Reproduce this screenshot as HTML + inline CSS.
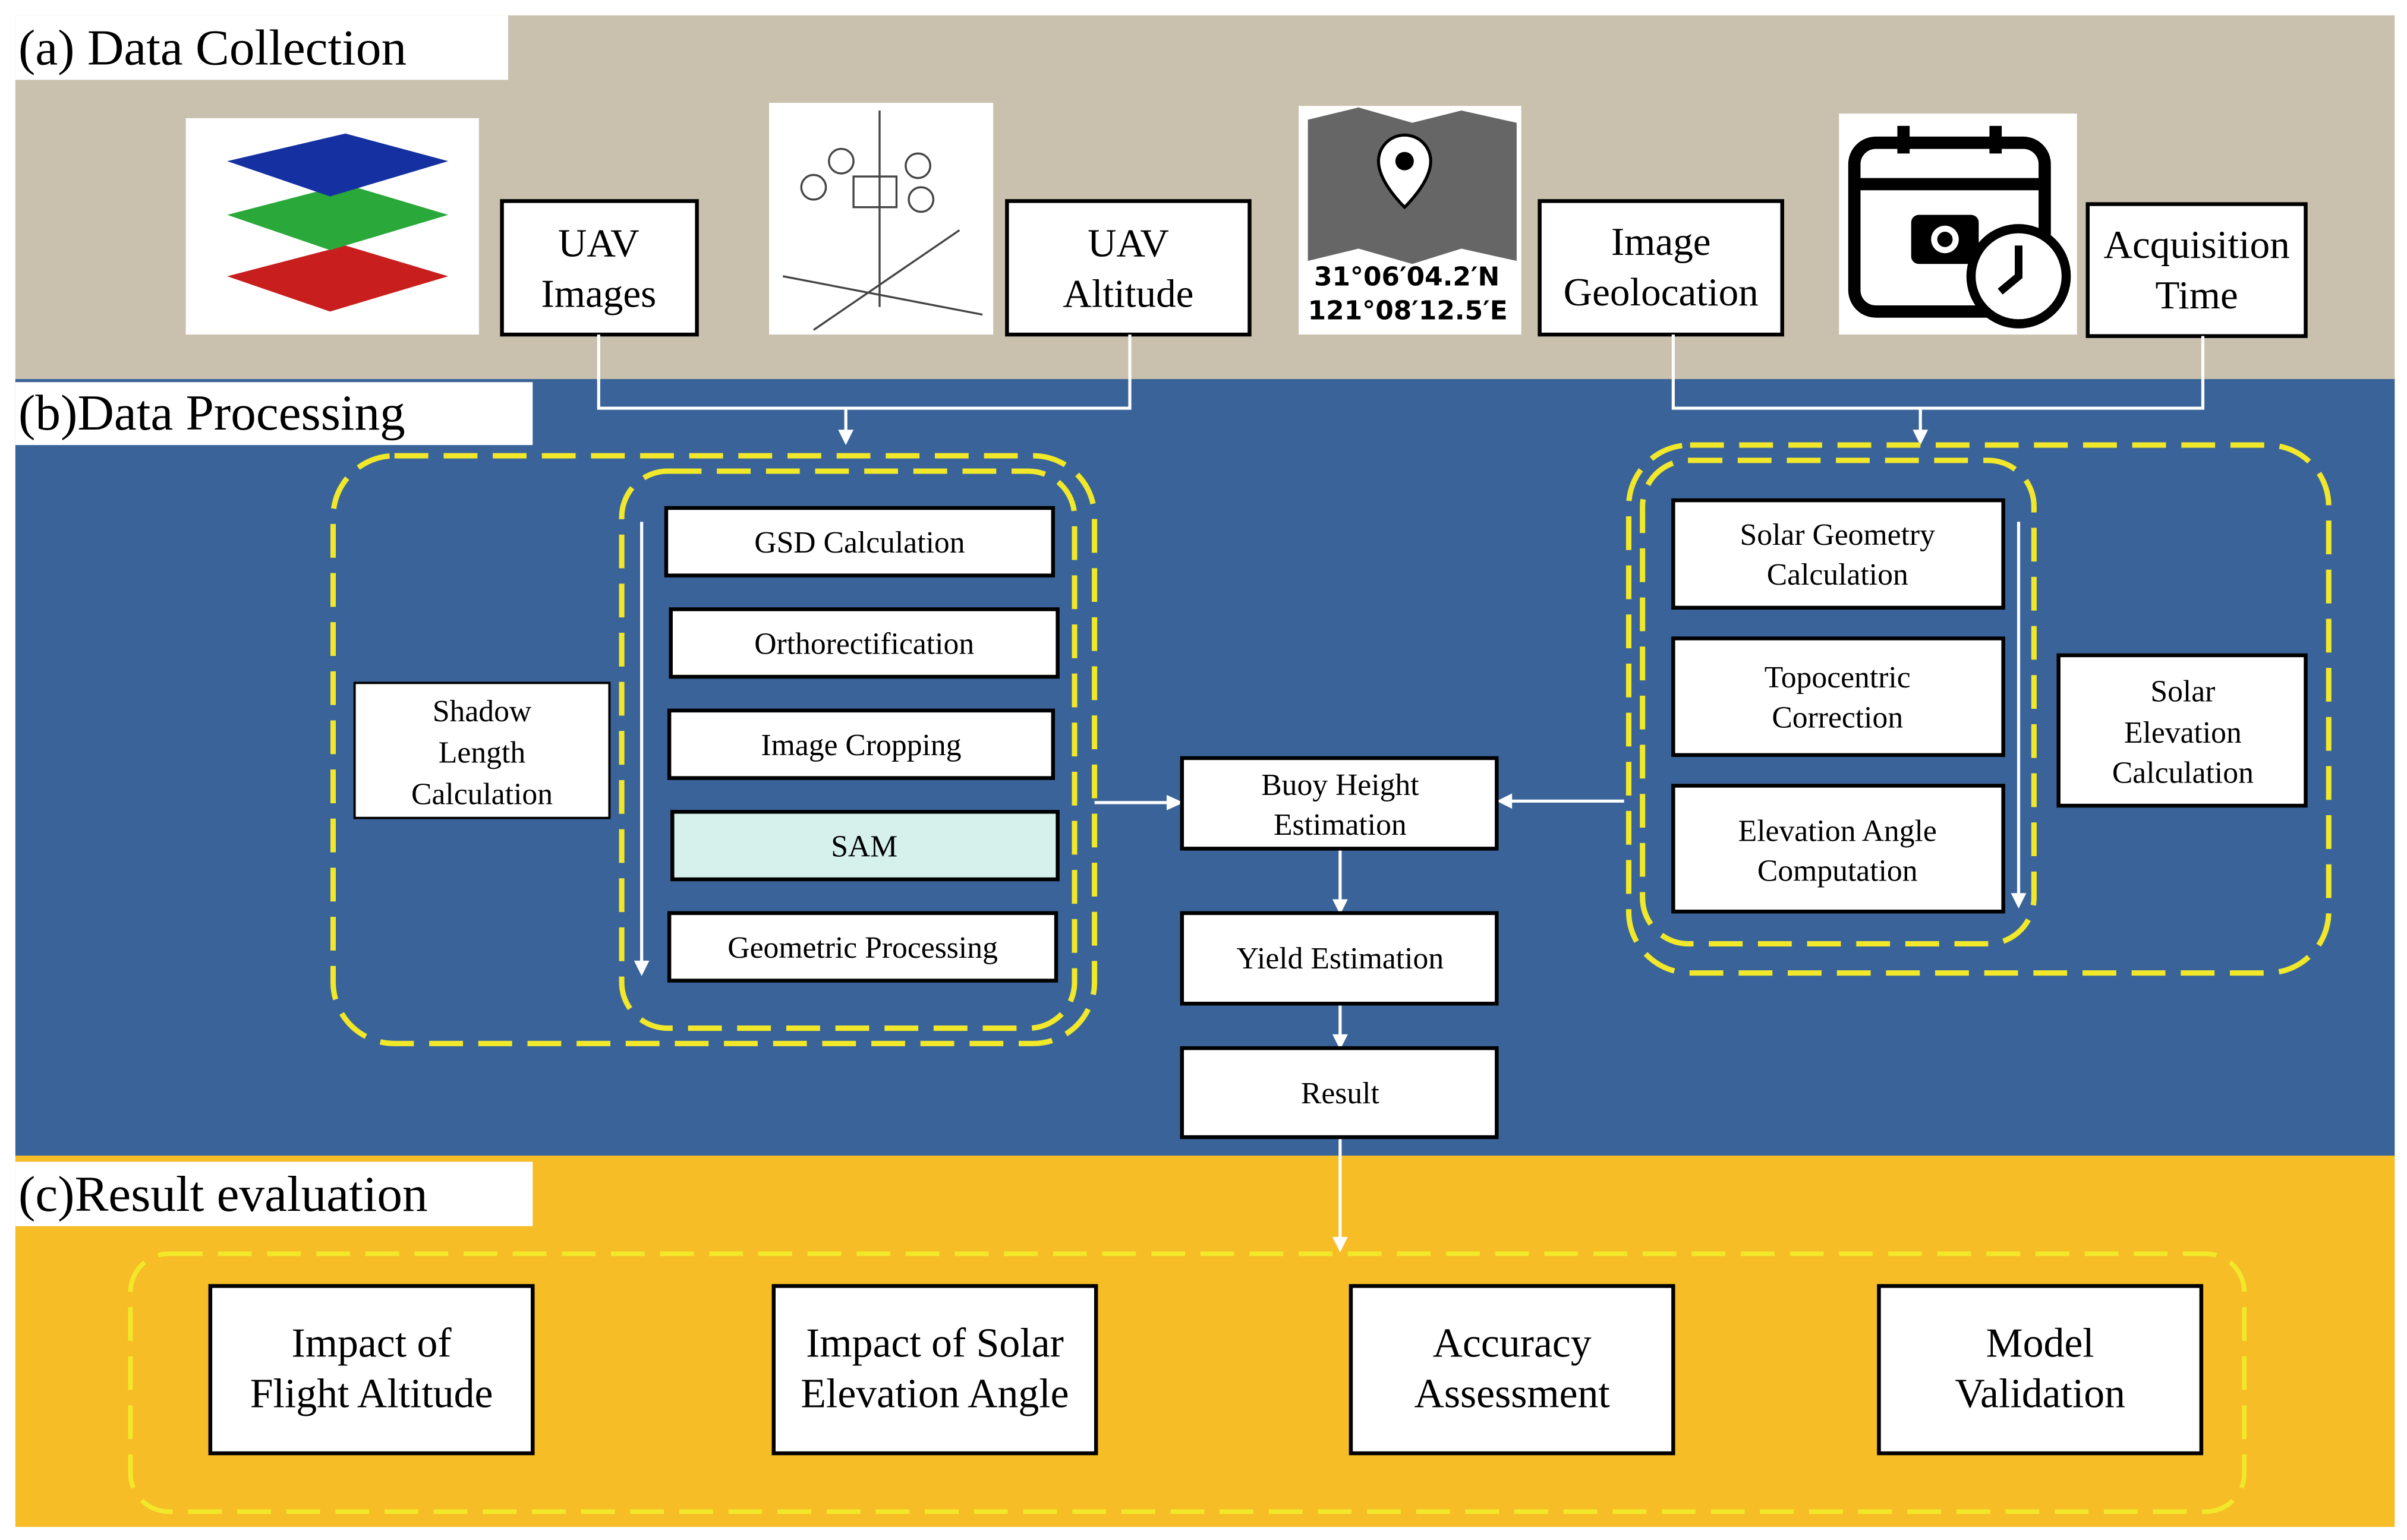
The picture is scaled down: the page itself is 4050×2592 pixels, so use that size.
<!DOCTYPE html>
<html><head><meta charset="utf-8"><style>html,body{margin:0;padding:0;background:#fff}svg{display:block}</style></head>
<body>
<svg width="4050" height="2592" viewBox="0 0 1568 1003.5" xmlns="http://www.w3.org/2000/svg" font-family="Liberation Serif, serif">
<rect width="1568" height="1003.5" fill="#fff"/>
<rect x="10" y="10" width="1550" height="238" fill="#c9c0ae"/>
<rect x="10" y="247" width="1550" height="507" fill="#3a6499"/>
<rect x="10" y="753" width="1550" height="242" fill="#f6bd27"/>
<g fill="#fff">
<rect x="10" y="10" width="321" height="42"/>
<rect x="10" y="249" width="337" height="41"/>
<rect x="10" y="757" width="337" height="42"/>
</g>
<g font-size="33" fill="#000">
<text x="12" y="42">(a) Data Collection</text>
<text x="12" y="280">(b)Data  Processing</text>
<text x="12" y="789">(c)Result evaluation</text>
</g>
<rect x="121" y="77" width="191" height="141" fill="#fff"/>
<polygon points="148,180 225,160 292,180 215,203" fill="#c81e1e"/>
<polygon points="148,140 225,120 292,140 215,163" fill="#2aa83a"/>
<polygon points="148,105 225,87 292,105 215,128" fill="#1530a0"/>
<rect x="501" y="67" width="146" height="151" fill="#fff"/>
<g stroke="#444" stroke-width="1.3" fill="none">
<line x1="573" y1="72" x2="573" y2="200"/><line x1="530" y1="215" x2="625" y2="150"/><line x1="510" y1="180" x2="640" y2="205"/>
<rect x="556" y="115" width="28" height="20"/><circle cx="548" cy="105" r="8"/><circle cx="598" cy="108" r="8"/><circle cx="530" cy="122" r="8"/><circle cx="600" cy="130" r="8"/>
</g>
<rect x="846" y="69" width="145" height="149" fill="#fff"/>
<polygon points="852,78 885,70 920,80 952,72 988,80 988,170 952,162 920,172 885,162 852,170" fill="#666"/>
<path d="M915,88 a17,17 0 0 1 17,17 c0,14 -17,30 -17,30 c0,0 -17,-16 -17,-30 a17,17 0 0 1 17,-17z" fill="#fff" stroke="#000" stroke-width="2"/>
<circle cx="915" cy="105" r="6" fill="#000"/>
<g font-family="DejaVu Sans, sans-serif" font-size="17" font-weight="bold"><text x="856" y="186">31°06′04.2′N</text><text x="852" y="208">121°08′12.5′E</text></g>
<rect x="1198" y="74" width="155" height="144" fill="#fff"/>
<g stroke="#000" stroke-width="8" fill="none"><rect x="1208" y="93" width="124" height="110" rx="14"/><line x1="1208" y1="120" x2="1332" y2="120"/><line x1="1240" y1="82" x2="1240" y2="100"/><line x1="1300" y1="82" x2="1300" y2="100"/></g>
<rect x="1245" y="140" width="44" height="32" rx="5" fill="#000"/><circle cx="1267" cy="156" r="9" fill="#fff"/><circle cx="1267" cy="156" r="5" fill="#000"/>
<circle cx="1315" cy="180" r="31" fill="#fff" stroke="#000" stroke-width="6"/><path d="M1315,160 v20 l-12,10" stroke="#000" stroke-width="5" fill="none"/>
<g fill="#fff" stroke="#000" stroke-width="2.5">
<rect x="327" y="131" width="127" height="87"/><rect x="656" y="131" width="158" height="87"/>
<rect x="1003" y="131" width="158" height="87"/><rect x="1360" y="133" width="142" height="86"/>
</g>
<g font-size="26" text-anchor="middle">
<text x="390" y="167">UAV</text><text x="390" y="200">Images</text>
<text x="735" y="167">UAV</text><text x="735" y="200">Altitude</text>
<text x="1082" y="166">Image</text><text x="1082" y="199">Geolocation</text>
<text x="1431" y="168">Acquisition</text><text x="1431" y="201">Time</text>
</g>
<g stroke="#fff" stroke-width="2" fill="none">
<polyline points="390,218 390,266 736,266 736,218"/><line x1="551" y1="266" x2="551" y2="282"/>
<polyline points="1090,218 1090,266 1435,266 1435,219"/><line x1="1251" y1="266" x2="1251" y2="282"/>
<line x1="418" y1="340" x2="418" y2="628"/><line x1="1315" y1="340" x2="1315" y2="584"/>
<line x1="713" y1="523" x2="762" y2="523"/><line x1="1058" y1="522" x2="983" y2="522"/>
<line x1="873" y1="553" x2="873" y2="588"/><line x1="873" y1="654" x2="873" y2="676"/><line x1="873" y1="741" x2="873" y2="808"/>
</g>
<g fill="#fff">
<polygon points="546,280 556,280 551,290"/><polygon points="1246,280 1256,280 1251,290"/>
<polygon points="413,626 423,626 418,636"/><polygon points="1310,582 1320,582 1315,592"/>
<polygon points="760,518 760,528 771,523"/><polygon points="985,517 985,527 975,522"/>
<polygon points="868,586 878,586 873,596"/><polygon points="868,674 878,674 873,684"/><polygon points="868,806 878,806 873,816"/>
</g>
<g stroke="#f2e82a" stroke-width="3.5" fill="none" stroke-dasharray="22,10">
<rect x="217" y="297" width="496" height="383" rx="40"/><rect x="405" y="307" width="295" height="363" rx="30"/>
<rect x="1061" y="290" width="456" height="344" rx="40"/><rect x="1070" y="300" width="255" height="315" rx="30"/>
<rect x="85" y="817" width="1377" height="168" rx="25" stroke-width="3"/>
</g>
<g fill="#fff" stroke="#000" stroke-width="2.5">
<rect x="434" y="331" width="252" height="44"/><rect x="437" y="397" width="252" height="44"/>
<rect x="436" y="463" width="250" height="44"/><rect x="438" y="529" width="251" height="44" fill="#d6f1ec"/>
<rect x="436" y="595" width="252" height="44"/>
<rect x="231" y="445" width="166" height="88" stroke-width="1.5"/>
<rect x="770" y="494" width="205" height="59"/><rect x="770" y="595" width="205" height="59"/><rect x="770" y="683" width="205" height="58"/>
<rect x="1090" y="326" width="215" height="70"/><rect x="1090" y="416" width="215" height="76"/><rect x="1090" y="512" width="215" height="82"/>
<rect x="1341" y="427" width="161" height="98"/>
<rect x="137" y="838" width="210" height="109"/><rect x="504" y="838" width="210" height="109"/>
<rect x="880" y="838" width="210" height="109"/><rect x="1224" y="838" width="210" height="109"/>
</g>
<g font-size="20" text-anchor="middle">
<text x="560" y="360">GSD Calculation</text><text x="563" y="426">Orthorectification</text>
<text x="561" y="492">Image Cropping</text><text x="563" y="558">SAM</text><text x="562" y="624">Geometric Processing</text>
<text x="314" y="470">Shadow</text><text x="314" y="497">Length</text><text x="314" y="524">Calculation</text>
<text x="873" y="518">Buoy Height</text><text x="873" y="544">Estimation</text>
<text x="873" y="631">Yield Estimation</text><text x="873" y="719">Result</text>
<text x="1197" y="355">Solar Geometry</text><text x="1197" y="381">Calculation</text>
<text x="1197" y="448">Topocentric</text><text x="1197" y="474">Correction</text>
<text x="1197" y="548">Elevation Angle</text><text x="1197" y="574">Computation</text>
<text x="1422" y="457">Solar</text><text x="1422" y="484">Elevation</text><text x="1422" y="510">Calculation</text>
</g>
<g font-size="27" text-anchor="middle">
<text x="242" y="884">Impact of</text><text x="242" y="917">Flight Altitude</text>
<text x="609" y="884">Impact of Solar</text><text x="609" y="917">Elevation Angle</text>
<text x="985" y="884">Accuracy</text><text x="985" y="917">Assessment</text>
<text x="1329" y="884">Model</text><text x="1329" y="917">Validation</text>
</g>
</svg>
</body></html>
